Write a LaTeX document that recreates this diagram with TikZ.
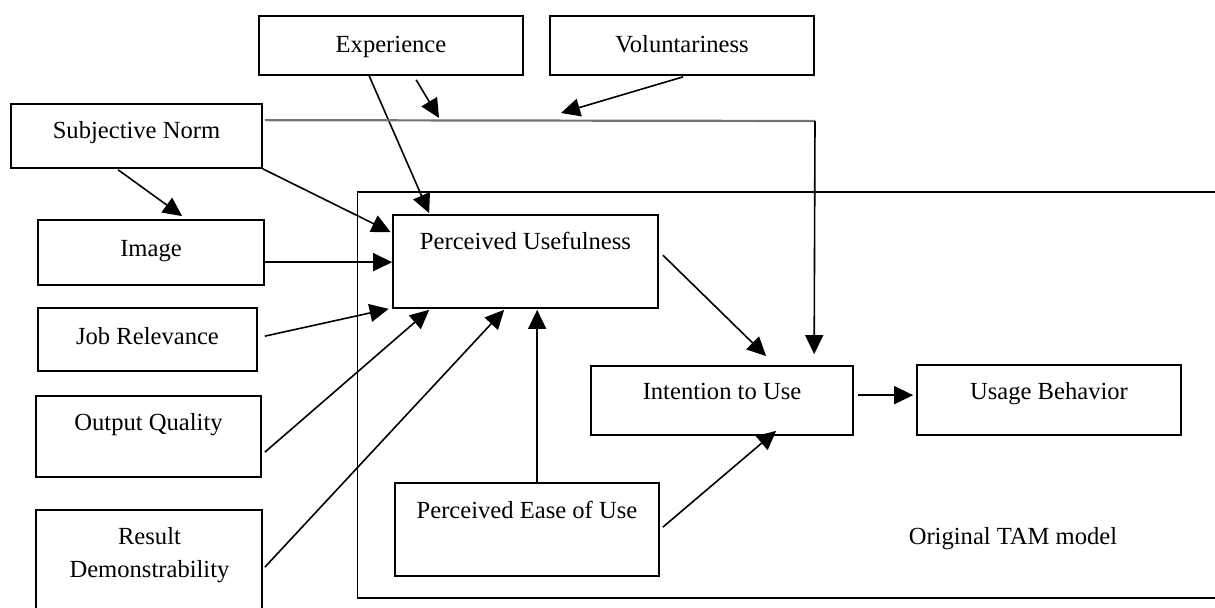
\documentclass[tikz,border=0pt]{standalone}
\usepackage{fontspec}
\setmainfont{Liberation Serif}
\usetikzlibrary{arrows.meta,calc}
\begin{document}
\begin{tikzpicture}[x=0.5pt,y=-0.5pt,
  box/.style args={#1/#2}{draw, line width=0.85pt, inner sep=0pt,
    minimum width=#1*0.5pt, minimum height=#2*0.5pt},
  lbl/.style={anchor=base, inner sep=0pt, font=\fontsize{12.3pt}{16pt}\selectfont},
  arr/.style={-{Triangle[length=9.5pt,width=9pt]}, line width=0.8pt},
  link/.style={line width=1.1pt, draw=black!55}]
% canvas
\fill[white] (0,0) rectangle (1215,608);
\useasboundingbox (0,0) rectangle (1215,608);
\clip (0,0) rectangle (1215,608);

% frame of the original TAM model
\draw[line width=0.85pt] (1220,192) -- (357.5,192) -- (357.5,598) -- (1220,598);

% boxes
\node[box=264/59] (exp) at (391,45.5) {};
\node[box=264/59] (vol) at (682,45.5) {};
\node[box=251/64] (sn) at (136.5,136) {};
\node[box=226/65] (img) at (151,252.5) {};
\node[box=219/63] (jr) at (147.5,339.5) {};
\node[box=225/81] (oq) at (148.5,436.5) {};
\node[box=226/130] (rd) at (149,575) {};
\node[box=265/93] (pu) at (525.5,261.5) {};
\node[box=264/93] (peou) at (527,529.5) {};
\node[box=262/69] (itu) at (722,400.5) {};
\node[box=264/70] (ub) at (1049,400) {};

% texts
\node[lbl] (exptxt) at (391,52.7) {Experience};
\node[lbl] (voltxt) at (682,52.7) {Voluntariness};
\node[lbl] (sntxt) at (136.5,138.3) {Subjective Norm};
\node[lbl] (imgtxt) at (151,256.7) {Image};
\node[lbl] (jrtxt) at (147.5,344.3) {Job Relevance};
\node[lbl] (oqtxt) at (148.5,430.7) {Output Quality};
\node[lbl] (rdtxt1) at (149.5,545) {Result};
\node[lbl] (rdtxt2) at (149.5,577) {Demonstrability};
\node[lbl] (putxt) at (525.5,249.3) {Perceived Usefulness};
\node[lbl] (peoutxt) at (527,518.3) {Perceived Ease of Use};
\node[lbl] (itutxt) at (722,399.3) {Intention to Use};
\node[lbl] (ubtxt) at (1049,399.3) {Usage Behavior};
\node[lbl] (tamtxt) at (1013,545) {Original TAM model};

% moderator targets on the subjective norm link
\coordinate (expmod) at (439,118);
\coordinate (volmod) at (561,113);
\coordinate (corner) at (815,121);

% connectors
\draw[arr] ($(exp.south west)+(111,0)$) -- ($(pu.north west)+(37,-1)$);
\draw[arr] ($(exp.south west)+(158,4)$) -- (expmod);
\draw[arr] ($(vol.south west)+(134,1)$) -- (volmod);
\draw[arr] ($(sn.south west)+(108,1)$) -- ($(img.north west)+(145,-3)$);
\draw[arr] (sn.south east) -- ($(pu.north west)+(-1.5,18)$);
\draw[arr] ($(img.north east)+(0,43)$) -- ($(pu.north west)+(0,48)$);
\draw[arr] ($(jr.north east)+(7,29)$) -- ($(pu.south west)+(-3.5,0)$);
\draw[arr] ($(oq.north east)+(3,57)$) -- ($(pu.south west)+(37,1)$);
\draw[arr] ($(rd.north east)+(2,58)$) -- ($(pu.south west)+(112,1)$);
\draw[arr] ($(peou.north west)+(143,0)$) -- ($(pu.south west)+(145,1)$);
\draw[arr] ($(peou.north east)+(3,45)$) -- ($(itu.south west)+(186,-5)$);
\draw[arr] ($(pu.north east)+(4,41)$) -- ($(itu.north west)+(176,-9)$);
\draw[link] ($(sn.north east)+(2,17)$) -- (corner);
\draw[arr] (corner) -- ($(itu.north west)+(224,-11)$);
\draw[arr] ($(itu.north east)+(4,30)$) -- ($(ub.north west)+(-3,31)$);
\end{tikzpicture}
\end{document}
